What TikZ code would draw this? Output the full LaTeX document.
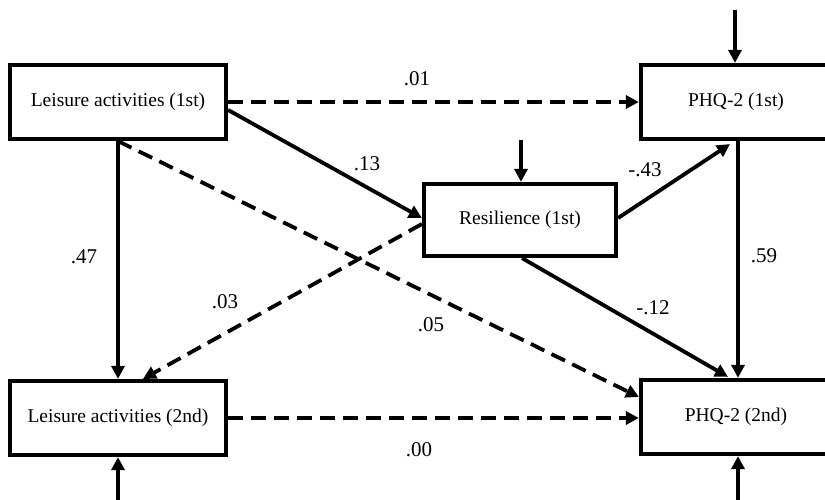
\documentclass[tikz,border=0pt]{standalone}
\usepackage{fontspec}
\setmainfont{Liberation Serif}
\usetikzlibrary{arrows.meta}
\begin{document}
\begin{tikzpicture}[x=1pt,y=-1pt,
  box/.style={draw, line width=4.2pt, minimum height=74pt, inner sep=0pt, font=\fontsize{19.5}{22}\selectfont},
  arr/.style={line width=3.8pt, -{Triangle[length=13pt,width=13pt]}},
  darr/.style={arr, dash pattern=on 15pt off 8pt},
  lab/.style={font=\fontsize{21}{24}\selectfont, inner sep=0pt}]
\useasboundingbox (0,0) rectangle (825,500);
\clip (0,0) rectangle (825,500);
\fill[white] (0,0) rectangle (825,500);

% boxes
\node[box, minimum width=216pt] (L1) at (118,102) {Leisure activities (1st)};
\node[box, minimum width=190pt] (P1) at (736,102) {PHQ-2 (1st)};
\node[box, minimum width=192pt, minimum height=72pt] (R) at (520,220) {Resilience (1st)};
\node[box, minimum width=216pt] (L2) at (118,418) {Leisure activities (2nd)};
\node[box, minimum width=190pt] (P2) at (736,417) {PHQ-2 (2nd)};

% free ends
\coordinate (eP1) at (735,10);
\coordinate (eR) at (521,140);
\coordinate (eL2) at (118,505);
\coordinate (eP2) at (738,505);

% error arrows
\draw[arr] (eP1) -- (eP1 |- P1.north);
\draw[arr] (eR) -- (eR |- R.north);
\draw[arr] (eL2) -- (L2.south);
\draw[arr] (eP2) -- (eP2 |- P2.south);

% paths
\draw[arr] (L1.south) -- (L2.north);
\draw[darr] (L1.east) -- (L1.east -| P1.west);
\draw[darr] (L2.east) -- (L2.east -| P2.west);
\draw[arr] ([yshift=-8pt]L1.east) -- ([yshift=2pt]R.west);
\draw[darr] (L1.south) -- ([yshift=20pt]P2.west);
\draw[darr] ([yshift=-4pt]R.west) -- ([xshift=25pt]L2.north);
\draw[arr] ([yshift=2pt]R.east) -- ([xshift=-6pt,yshift=-3pt]P1.south);
\draw[arr] ([xshift=2pt]R.south) -- ([xshift=-8pt,yshift=1pt]P2.north);
\draw[arr] ([xshift=2pt]P1.south) -- ([xshift=2pt]P2.north);

% labels
\node[lab] (l01) at (417,79) {.01};
\node[lab] (l13) at (367,164) {.13};
\node[lab] (l43) at (645,170) {-.43};
\node[lab] (l47) at (84,257) {.47};
\node[lab] (l59) at (764,256) {.59};
\node[lab] (l03) at (225,302) {.03};
\node[lab] (l05) at (431,325) {.05};
\node[lab] (l12) at (653,308) {-.12};
\node[lab] (l00) at (419,450) {.00};
\end{tikzpicture}
\end{document}
